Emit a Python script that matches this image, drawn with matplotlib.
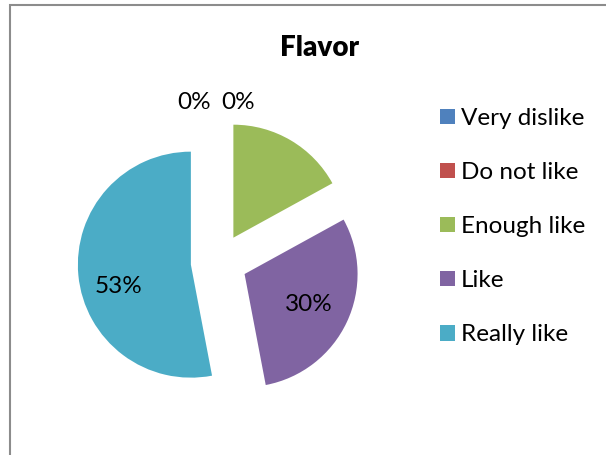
import matplotlib.pyplot as plt
from matplotlib.patches import Rectangle

plt.rcParams['font.family'] = ['Lato', 'DejaVu Sans']

categories = ["Very dislike", "Do not like", "Enough like", "Like", "Really like"]
values = [0, 0, 17, 30, 53]
colors = ["#4F81BD", "#C0504D", "#9BBB59", "#8064A2", "#4BACC6"]

fig = plt.figure(figsize=(6.06, 4.55), dpi=100)
ax = fig.add_axes([0, 0, 1, 1])

wedges, texts, autotexts = ax.pie(
    values, colors=colors, startangle=90, counterclock=False,
    explode=[0.25] * len(values), autopct="%.0f%%", pctdistance=0.63,
    textprops={"fontsize": 17.5, "color": "black"},
)
# Excel placed the two 0% labels side by side above the pie; green has no label
autotexts[0].set_position((-0.22, 1.41))
autotexts[1].set_position((0.17, 1.41))
autotexts[2].set_visible(False)
autotexts[4].set_position((-0.89, -0.22))

# pie centre at pixel (219, 262), radius 113 px
ax.set_xlim(-219 / 113, (606 - 219) / 113)
ax.set_ylim((262 - 455) / 113, 262 / 113)
ax.set_aspect("auto")
ax.axis("off")

fig.text(320 / 606, 1 - 48 / 455, "Flavor", ha="center", va="center",
         fontsize=20, fontweight="heavy")

leg = fig.legend(wedges, categories, loc="upper left",
                 bbox_to_anchor=(428 / 606, 1 - 96 / 455), frameon=False,
                 fontsize=17.5, handlelength=0.6, handleheight=0.6,
                 handletextpad=0.25, labelspacing=1.36, borderpad=0)

fig.add_artist(Rectangle((10 / 606, -0.1), 1.2, 1.1 - 5 / 455,
                         transform=fig.transFigure, fill=False,
                         edgecolor="#8c8c8c", linewidth=1.5))

fig.savefig("out.png", dpi=100)
